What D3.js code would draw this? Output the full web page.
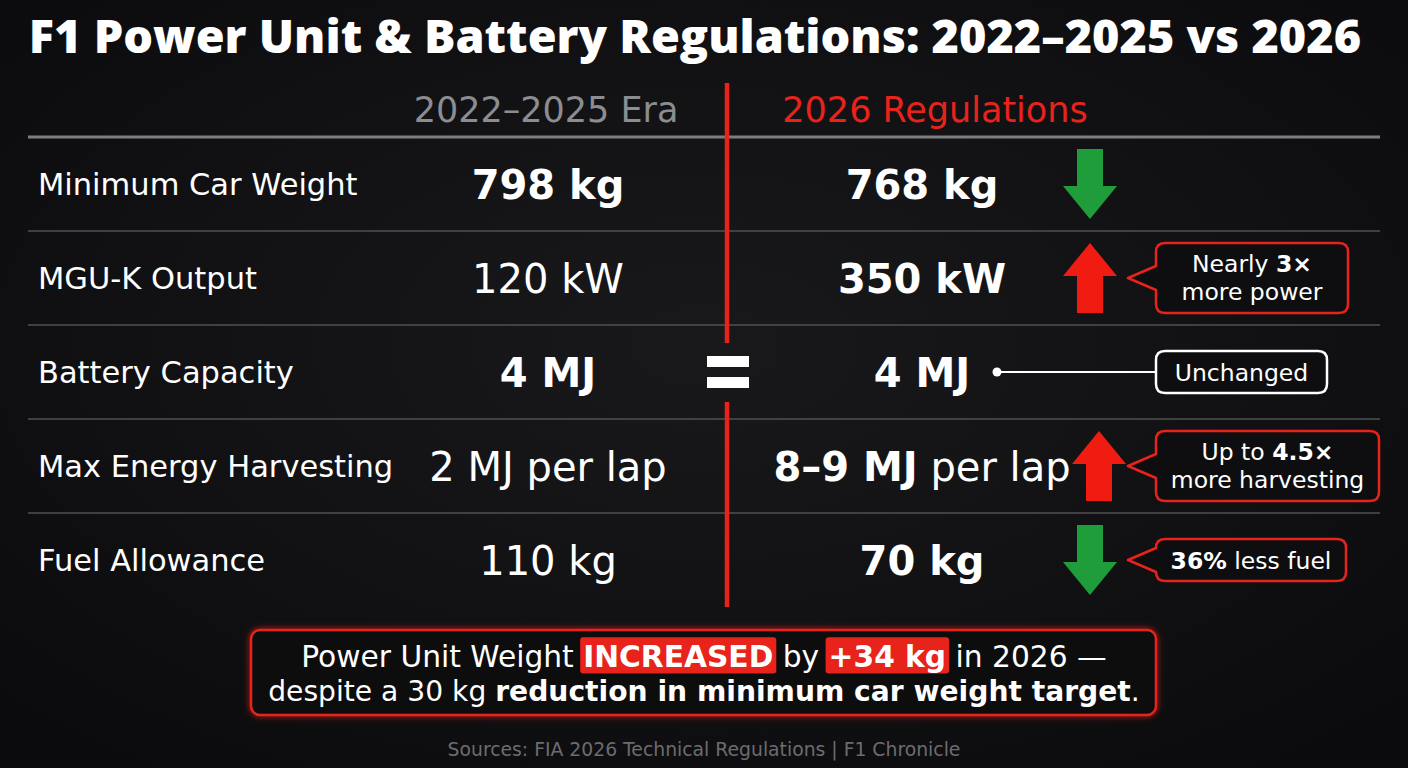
<!DOCTYPE html>
<html>
<head>
<meta charset="utf-8">
<script src="https://cdn.jsdelivr.net/npm/d3@7"></script>
<style>
  body { margin: 0; background: #111113; }
  svg { display: block; }
  text { font-family: "DejaVu Sans", sans-serif; }
</style>
</head>
<body>
<script>
// data
var metrics = ["Minimum Car Weight", "MGU-K Output", "Battery Capacity", "Max Energy Harvesting", "Fuel Allowance"];
var oldValues = ["798 kg", "120 kW", "4 MJ", "2 MJ per lap", "110 kg"];
var oldBold = ["798 kg", "", "4 MJ", "", ""];
var newValues = ["768 kg", "350 kW", "4 MJ", "8–9 MJ per lap", "70 kg"];
var newBold = ["768 kg", "350 kW", "4 MJ", "8–9 MJ", "70 kg"];
var change = ["down", "up", "same", "up", "down"];
var noteLine1 = ["", "Nearly 3×", "Unchanged", "Up to 4.5×", "36% less fuel"];
var noteLine2 = ["", "more power", "", "more harvesting", ""];
var noteBold = ["", "3×", "", "4.5×", "36%"];
var columns = ["2022–2025 Era", "2026 Regulations"];

var width = 1408, height = 768;
var red = "#e8231b", green = "#1f9d3b";

var svg = d3.select("body").append("svg")
  .attr("width", width)
  .attr("height", height);

// background vignette + glow
var defs = svg.append("defs");
var grad = defs.append("radialGradient").attr("id", "bg").attr("cx", "50%").attr("cy", "45%").attr("r", "70%");
grad.append("stop").attr("offset", "0%").attr("stop-color", "#19191c");
grad.append("stop").attr("offset", "100%").attr("stop-color", "#0b0b0d");
var glow = defs.append("filter").attr("id", "glow").attr("x", "-5%").attr("y", "-30%").attr("width", "110%").attr("height", "160%");
glow.append("feGaussianBlur").attr("stdDeviation", 3).attr("result", "b");
var fm = glow.append("feMerge");
fm.append("feMergeNode").attr("in", "b");
fm.append("feMergeNode").attr("in", "SourceGraphic");

svg.append("rect").attr("width", width).attr("height", height).attr("fill", "url(#bg)");

// scales
var y = d3.scaleBand().domain(metrics).range([137, 607]);
var x = d3.scalePoint().domain(columns).range([548, 922]);

// splits a string into normal / bold tspans
function addSegments(sel, full, boldPart) {
  var i = boldPart ? full.indexOf(boldPart) : -1;
  if (i < 0) { sel.append("tspan").attr("font-weight", 400).text(full); return; }
  if (i > 0) sel.append("tspan").attr("font-weight", 400).text(full.slice(0, i));
  sel.append("tspan").attr("font-weight", 700).text(boldPart);
  if (i + boldPart.length < full.length) sel.append("tspan").attr("font-weight", 400).text(full.slice(i + boldPart.length));
}

// title
svg.append("text")
  .attr("x", 695).attr("y", 53)
  .attr("text-anchor", "middle")
  .attr("fill", "#fff")
  .attr("font-size", 46.8)
  .attr("font-weight", 800)
  .style("font-family", "'Open Sans', sans-serif")
  .text("F1 Power Unit & Battery Regulations: 2022–2025 vs 2026");

// column headers
svg.selectAll(".colhead").data(columns).enter().append("text")
  .attr("class", "colhead")
  .attr("x", function(d, i) { return i === 0 ? 546 : 935; })
  .attr("y", 122)
  .attr("text-anchor", "middle")
  .attr("font-size", 35)
  .attr("fill", function(d, i) { return i === 0 ? "#8b8d91" : red; })
  .text(function(d) { return d; });

// grid lines
svg.append("line").attr("x1", 28).attr("x2", 1380).attr("y1", 137).attr("y2", 137)
  .attr("stroke", "#7d7e82").attr("stroke-width", 3);
svg.selectAll(".rowline").data(metrics.slice(1)).enter().append("line")
  .attr("x1", 28).attr("x2", 1380)
  .attr("y1", function(d) { return y(d); }).attr("y2", function(d) { return y(d); })
  .attr("stroke", "#505154").attr("stroke-width", 1.5);

// red divider with gap for equals sign
var midY = y(metrics[2]) + y.bandwidth() / 2;
svg.append("line").attr("x1", 727).attr("x2", 727).attr("y1", 83).attr("y2", midY - 29)
  .attr("stroke", red).attr("stroke-width", 4.5);
svg.append("line").attr("x1", 727).attr("x2", 727).attr("y1", midY + 30).attr("y2", 607)
  .attr("stroke", red).attr("stroke-width", 4.5);
svg.append("rect").attr("x", 707).attr("y", midY - 16).attr("width", 42).attr("height", 11).attr("fill", "#fff");
svg.append("rect").attr("x", 707).attr("y", midY + 5).attr("width", 42).attr("height", 11).attr("fill", "#fff");

// rows
var rows = svg.selectAll(".row").data(metrics).enter().append("g")
  .attr("class", "row")
  .attr("transform", function(d) { return "translate(0," + (y(d) + y.bandwidth() / 2) + ")"; });

rows.append("text")
  .attr("x", 38).attr("y", 11)
  .attr("font-size", 30.5)
  .attr("fill", "#fff")
  .text(function(d) { return d; });

rows.append("text")
  .attr("x", x(columns[0])).attr("y", 15)
  .attr("text-anchor", "middle")
  .attr("font-size", 40)
  .attr("fill", "#fff")
  .each(function(d, i) { addSegments(d3.select(this), oldValues[i], oldBold[i]); });

rows.append("text")
  .attr("x", x(columns[1])).attr("y", 15)
  .attr("text-anchor", "middle")
  .attr("font-size", 40)
  .attr("fill", "#fff")
  .each(function(d, i) { addSegments(d3.select(this), newValues[i], newBold[i]); });

// arrows
var arrowUp = "M0,-35 L27,-2 L13,-2 L13,35 L-13,35 L-13,-2 L-27,-2 Z";
var arrowDown = "M0,35 L27,2 L13,2 L13,-35 L-13,-35 L-13,2 L-27,2 Z";
rows.filter(function(d, i) { return change[i] !== "same"; })
  .append("path")
  .attr("transform", function(d) { var i = metrics.indexOf(d); return "translate(" + (i === 3 ? 1099 : 1090) + ",0)"; })
  .attr("d", function(d) { return change[metrics.indexOf(d)] === "up" ? arrowUp : arrowDown; })
  .attr("fill", function(d) { return change[metrics.indexOf(d)] === "up" ? "#f01c12" : green; });

// callouts
function calloutPath(x0, y0, x1, y1, r, tipX, notch) {
  var cy = (y0 + y1) / 2;
  return "M" + (x0 + r) + "," + y0 +
    " L" + (x1 - r) + "," + y0 + " Q" + x1 + "," + y0 + " " + x1 + "," + (y0 + r) +
    " L" + x1 + "," + (y1 - r) + " Q" + x1 + "," + y1 + " " + (x1 - r) + "," + y1 +
    " L" + (x0 + r) + "," + y1 + " Q" + x0 + "," + y1 + " " + x0 + "," + (y1 - r) +
    (notch ? " L" + x0 + "," + (cy + 12) + " L" + tipX + "," + cy + " L" + x0 + "," + (cy - 12) : "") +
    " L" + x0 + "," + (y0 + r) + " Q" + x0 + "," + y0 + " " + (x0 + r) + "," + y0 + " Z";
}

var noteW = [0, 192, 171, 223, 190];
rows.each(function(d, i) {
  if (!noteLine1[i]) return;
  var g = d3.select(this);
  var same = change[i] === "same";
  var h = noteLine2[i] ? 70 : 42;
  if (same) {
    g.append("circle").attr("cx", 997).attr("cy", 0).attr("r", 4.5).attr("fill", "#fff");
    g.append("line").attr("x1", 997).attr("x2", 1156).attr("y1", 0).attr("y2", 0)
      .attr("stroke", "#fff").attr("stroke-width", 2);
  }
  g.append("path")
    .attr("d", calloutPath(1156, -h / 2, 1156 + noteW[i], h / 2, 9, 1128, !same))
    .attr("fill", "#0e0e10")
    .attr("stroke", same ? "#fff" : red)
    .attr("stroke-width", 2.5)
    .attr("stroke-linejoin", "round");
  var cx = 1156 + noteW[i] / 2;
  var t1 = g.append("text").attr("x", cx).attr("y", noteLine2[i] ? -6 : 9)
    .attr("text-anchor", "middle").attr("font-size", 23.5).attr("fill", "#fff");
  addSegments(t1, noteLine1[i], noteBold[i]);
  if (noteLine2[i]) {
    g.append("text").attr("x", cx).attr("y", 22)
      .attr("text-anchor", "middle").attr("font-size", 23.5).attr("fill", "#fff")
      .text(noteLine2[i]);
  }
});

// bottom summary box
var summary1 = [["Power Unit Weight ", 0], ["INCREASED", 2], [" by ", 0], ["+34 kg", 2], [" in 2026 —", 0]];
var summary2 = [["despite a 30 kg ", 0], ["reduction in minimum car weight target", 1], [".", 0]];

svg.append("rect")
  .attr("x", 251).attr("y", 630).attr("width", 905).attr("height", 85).attr("rx", 9)
  .attr("fill", "#0e0e10").attr("stroke", red).attr("stroke-width", 2.5)
  .attr("filter", "url(#glow)");

function summaryLine(parts, baseY, targetW) {
  var g = svg.append("g");
  var size = 30;
  var pieces = parts.map(function(p) {
    return g.append("text").attr("y", baseY).attr("font-size", size)
      .attr("font-weight", p[1] ? 700 : 400).attr("fill", "#fff")
      .attr("xml:space", "preserve").style("white-space", "pre").text(p[0]);
  });
  var measure = function() { return pieces.map(function(t) { return t.node().getComputedTextLength(); }); };
  var widths = measure();
  size = size * targetW / d3.sum(widths);
  pieces.forEach(function(t) { t.attr("font-size", size); });
  widths = measure();
  var total = d3.sum(widths), cur = width / 2 - total / 2;
  pieces.forEach(function(t, i) {
    if (parts[i][1] === 2) {
      g.insert("rect", "text").attr("x", cur - 3).attr("y", baseY - size * 1.0).attr("width", widths[i] + 6).attr("height", size * 1.22)
        .attr("rx", 3).attr("fill", red);
    }
    t.attr("x", cur);
    cur += widths[i];
  });
}
summaryLine(summary1, 667, 806);
summaryLine(summary2, 701, 872);

svg.append("text")
  .attr("x", width / 2).attr("y", 756)
  .attr("text-anchor", "middle").attr("font-size", 18.8).attr("fill", "#6b6c6f")
  .text("Sources: FIA 2026 Technical Regulations | F1 Chronicle");
</script>
</body>
</html>
